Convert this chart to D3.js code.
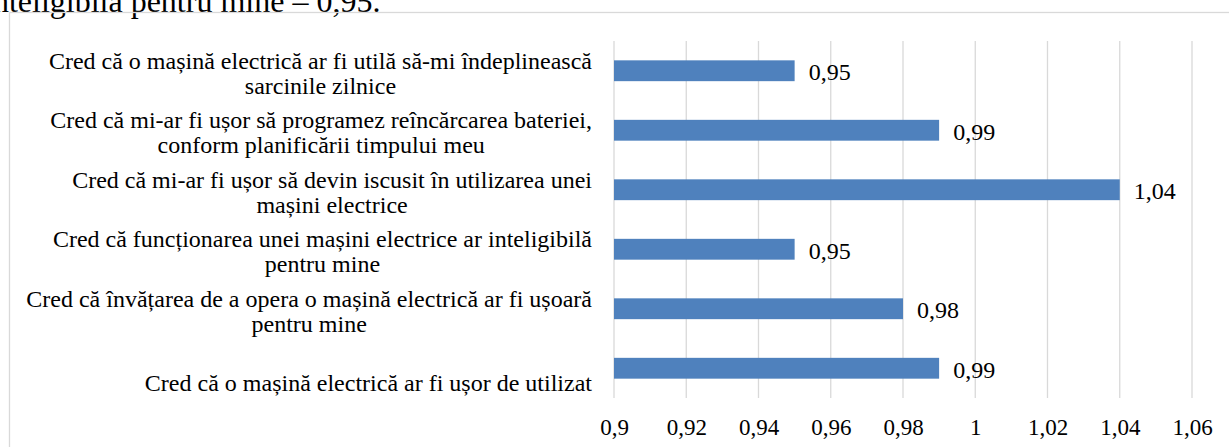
<!DOCTYPE html>
<html>
<head>
<meta charset="utf-8">
<script src="https://cdn.jsdelivr.net/npm/d3@7"></script>
<style>
  body { margin: 0; background: #fff; }
  svg { display: block; font-family: "Liberation Serif", "Times New Roman", serif; }
</style>
</head>
<body>
<svg id="svg" width="1229" height="447"></svg>
<script>
// Data (top to bottom, as in the chart)
var categories = [
  "Cred că o mașină electrică ar fi utilă să-mi îndeplinească\nsarcinile zilnice",
  "Cred că mi-ar fi ușor să programez reîncărcarea bateriei,\nconform planificării timpului meu",
  "Cred că mi-ar fi ușor să devin iscusit în utilizarea unei\nmașini electrice",
  "Cred că funcționarea unei mașini electrice ar inteligibilă\npentru mine",
  "Cred că învățarea de a opera o mașină electrică ar fi ușoară\npentru mine",
  "\nCred că o mașină electrică ar fi ușor de utilizat"
];
var values = [0.95, 0.99, 1.04, 0.95, 0.98, 0.99];
var tickValues = [0.9, 0.92, 0.94, 0.96, 0.98, 1, 1.02, 1.04, 1.06];
var headerText = "inteligibilă pentru mine – 0,95.";

var svg = d3.select("#svg");
var fmt = v => d3.format(",.2~f")(v).replace(".", ",");

// text above the chart (cut off by the page crop)
svg.append("text")
  .attr("x", -16)
  .attr("y", 12)
  .attr("font-size", 32)
  .attr("fill", "#000")
  .text(headerText);

// chart border (runs off the picture right and bottom)
svg.append("rect")
  .attr("x", 9.5).attr("y", 12.5)
  .attr("width", 1240).attr("height", 460)
  .attr("fill", "none")
  .attr("stroke", "#d9d9d9")
  .attr("stroke-width", 1.3);

const plot = { left: 614, right: 1192, top: 41, bottom: 398 };

let x = d3.scaleLinear().domain([0.9, 1.06]).range([plot.left, plot.right]);
let y = d3.scaleBand().domain(d3.range(categories.length))
  .range([plot.top, plot.bottom]).paddingInner(0.65).paddingOuter(0.325);
let band = d3.scaleBand().domain(d3.range(categories.length)).range([plot.top, plot.bottom]);

// gridlines
svg.append("g")
  .selectAll("line")
  .data(tickValues)
  .enter().append("line")
  .attr("x1", d => x(d)).attr("x2", d => x(d))
  .attr("y1", plot.top).attr("y2", plot.bottom)
  .attr("stroke", "#d9d9d9")
  .attr("stroke-width", 1.3);

// x axis labels
let xAxis = svg.append("g")
  .attr("transform", "translate(0," + (plot.bottom + 21) + ")")
  .call(d3.axisBottom(x).tickValues(tickValues).tickSize(0).tickPadding(0).tickFormat(fmt));
xAxis.select(".domain").remove();
xAxis.selectAll("text")
  .attr("font-family", "Liberation Serif, Times New Roman, serif")
  .attr("font-size", 23)
  .attr("fill", "#000");

// bars
svg.append("g")
  .selectAll("rect")
  .data(values)
  .enter().append("rect")
  .attr("x", x(0.9))
  .attr("y", (d, i) => y(i))
  .attr("width", d => x(d) - x(0.9))
  .attr("height", y.bandwidth())
  .attr("fill", "#4f81bd");

// value labels
svg.append("g")
  .selectAll("text")
  .data(values)
  .enter().append("text")
  .attr("x", d => x(d) + 14)
  .attr("y", (d, i) => band(i) + band.bandwidth() / 2 + 1)
  .attr("dy", "0.35em")
  .attr("font-size", 24)
  .attr("fill", "#000")
  .text(fmt);

// category labels: lines centred on each other, block right aligned
const labelRight = 592, lineH = 25;
categories.forEach((c, i) => {
  let lines = c.split("\n");
  let g = svg.append("g");
  let texts = g.selectAll("text").data(lines).enter().append("text")
    .attr("font-size", 24)
    .attr("fill", "#000")
    .attr("text-anchor", "middle")
    .attr("dy", "0.35em")
    .text(d => d);
  let maxW = d3.max(texts.nodes(), n => n.getComputedTextLength());
  let cy = band(i) + band.bandwidth() / 2 + 2;
  texts.attr("x", labelRight - maxW / 2)
    .attr("y", (d, j) => cy + (j - (lines.length - 1) / 2) * lineH);
});
</script>
</body>
</html>
